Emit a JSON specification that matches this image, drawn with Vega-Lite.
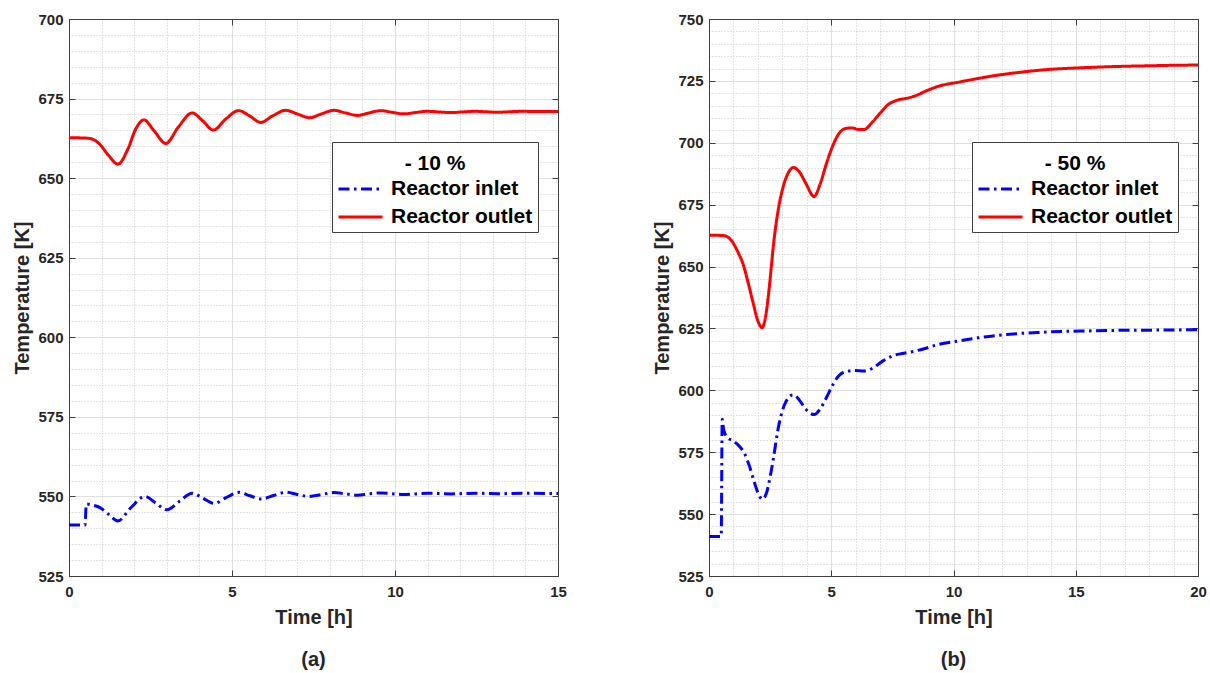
{
  "$schema": "https://vega.github.io/schema/vega-lite/v6.json",
  "background": "white",
  "padding": {"left": 12, "top": 12, "right": 8, "bottom": 8},
  "config": {"view": {"stroke": null}, "font": "Liberation Sans"},
  "datasets": {
    "a": [
      {"t": 0, "T": 662.7, "s": "Reactor outlet"}, {"t": 0.5, "T": 662.6, "s": "Reactor outlet"}, {"t": 0.7, "T": 662.3, "s": "Reactor outlet"},
      {"t": 0.93, "T": 660.8, "s": "Reactor outlet"}, {"t": 1.2, "T": 657.3, "s": "Reactor outlet"}, {"t": 1.5, "T": 654.4, "s": "Reactor outlet"},
      {"t": 1.8, "T": 659.0, "s": "Reactor outlet"}, {"t": 2.05, "T": 665.5, "s": "Reactor outlet"}, {"t": 2.3, "T": 668.3, "s": "Reactor outlet"},
      {"t": 2.6, "T": 665.0, "s": "Reactor outlet"}, {"t": 2.97, "T": 660.9, "s": "Reactor outlet"}, {"t": 3.35, "T": 666.0, "s": "Reactor outlet"},
      {"t": 3.78, "T": 670.5, "s": "Reactor outlet"}, {"t": 4.1, "T": 668.0, "s": "Reactor outlet"}, {"t": 4.43, "T": 665.1, "s": "Reactor outlet"},
      {"t": 4.8, "T": 668.5, "s": "Reactor outlet"}, {"t": 5.2, "T": 671.2, "s": "Reactor outlet"}, {"t": 5.55, "T": 669.5, "s": "Reactor outlet"},
      {"t": 5.88, "T": 667.5, "s": "Reactor outlet"}, {"t": 6.25, "T": 669.6, "s": "Reactor outlet"}, {"t": 6.65, "T": 671.3, "s": "Reactor outlet"},
      {"t": 7.0, "T": 670.2, "s": "Reactor outlet"}, {"t": 7.38, "T": 669.0, "s": "Reactor outlet"}, {"t": 7.75, "T": 670.2, "s": "Reactor outlet"},
      {"t": 8.12, "T": 671.3, "s": "Reactor outlet"}, {"t": 8.48, "T": 670.5, "s": "Reactor outlet"}, {"t": 8.85, "T": 669.7, "s": "Reactor outlet"},
      {"t": 9.2, "T": 670.5, "s": "Reactor outlet"}, {"t": 9.56, "T": 671.2, "s": "Reactor outlet"}, {"t": 9.9, "T": 670.7, "s": "Reactor outlet"},
      {"t": 10.27, "T": 670.2, "s": "Reactor outlet"}, {"t": 10.62, "T": 670.6, "s": "Reactor outlet"}, {"t": 10.98, "T": 671.0, "s": "Reactor outlet"},
      {"t": 11.35, "T": 670.8, "s": "Reactor outlet"}, {"t": 11.72, "T": 670.6, "s": "Reactor outlet"}, {"t": 12.08, "T": 670.8, "s": "Reactor outlet"},
      {"t": 12.45, "T": 671.0, "s": "Reactor outlet"}, {"t": 12.8, "T": 670.85, "s": "Reactor outlet"}, {"t": 13.15, "T": 670.7, "s": "Reactor outlet"},
      {"t": 13.5, "T": 670.85, "s": "Reactor outlet"}, {"t": 13.9, "T": 671.0, "s": "Reactor outlet"}, {"t": 14.4, "T": 670.9, "s": "Reactor outlet"},
      {"t": 15, "T": 670.9, "s": "Reactor outlet"},
      {"t": 0, "T": 541.0, "s": "Reactor inlet"}, {"t": 0.49, "T": 541.0, "s": "Reactor inlet"}, {"t": 0.53, "T": 547.6, "s": "Reactor inlet"},
      {"t": 0.75, "T": 547.2, "s": "Reactor inlet"}, {"t": 0.95, "T": 546.5, "s": "Reactor inlet"}, {"t": 1.2, "T": 544.5, "s": "Reactor inlet"},
      {"t": 1.5, "T": 542.3, "s": "Reactor inlet"}, {"t": 1.9, "T": 546.5, "s": "Reactor inlet"}, {"t": 2.33, "T": 550.0, "s": "Reactor inlet"},
      {"t": 2.65, "T": 548.0, "s": "Reactor inlet"}, {"t": 3.0, "T": 545.8, "s": "Reactor inlet"}, {"t": 3.4, "T": 548.6, "s": "Reactor inlet"},
      {"t": 3.78, "T": 551.0, "s": "Reactor inlet"}, {"t": 4.1, "T": 549.5, "s": "Reactor inlet"}, {"t": 4.45, "T": 547.8, "s": "Reactor inlet"},
      {"t": 4.85, "T": 549.8, "s": "Reactor inlet"}, {"t": 5.22, "T": 551.3, "s": "Reactor inlet"}, {"t": 5.55, "T": 550.2, "s": "Reactor inlet"},
      {"t": 5.9, "T": 549.2, "s": "Reactor inlet"}, {"t": 6.28, "T": 550.3, "s": "Reactor inlet"}, {"t": 6.66, "T": 551.3, "s": "Reactor inlet"},
      {"t": 7.0, "T": 550.6, "s": "Reactor inlet"}, {"t": 7.38, "T": 550.0, "s": "Reactor inlet"}, {"t": 7.75, "T": 550.6, "s": "Reactor inlet"},
      {"t": 8.12, "T": 551.2, "s": "Reactor inlet"}, {"t": 8.5, "T": 550.8, "s": "Reactor inlet"}, {"t": 8.85, "T": 550.4, "s": "Reactor inlet"},
      {"t": 9.2, "T": 550.8, "s": "Reactor inlet"}, {"t": 9.56, "T": 551.1, "s": "Reactor inlet"}, {"t": 9.9, "T": 550.85, "s": "Reactor inlet"},
      {"t": 10.27, "T": 550.6, "s": "Reactor inlet"}, {"t": 10.98, "T": 551.0, "s": "Reactor inlet"}, {"t": 11.72, "T": 550.8, "s": "Reactor inlet"},
      {"t": 12.45, "T": 551.0, "s": "Reactor inlet"}, {"t": 13.15, "T": 550.85, "s": "Reactor inlet"}, {"t": 13.9, "T": 551.0, "s": "Reactor inlet"},
      {"t": 15, "T": 550.9, "s": "Reactor inlet"}
    ],
    "b": [
      {"t": 0, "T": 662.7, "s": "Reactor outlet"}, {"t": 0.6, "T": 662.5, "s": "Reactor outlet"}, {"t": 0.91, "T": 660.6, "s": "Reactor outlet"},
      {"t": 1.2, "T": 655.5, "s": "Reactor outlet"}, {"t": 1.4, "T": 650.8, "s": "Reactor outlet"}, {"t": 1.6, "T": 643.5, "s": "Reactor outlet"},
      {"t": 1.8, "T": 635.5, "s": "Reactor outlet"}, {"t": 2.0, "T": 628.0, "s": "Reactor outlet"}, {"t": 2.17, "T": 625.3, "s": "Reactor outlet"},
      {"t": 2.35, "T": 632.0, "s": "Reactor outlet"}, {"t": 2.5, "T": 645.0, "s": "Reactor outlet"}, {"t": 2.65, "T": 660.0, "s": "Reactor outlet"},
      {"t": 2.8, "T": 671.0, "s": "Reactor outlet"}, {"t": 3.0, "T": 681.0, "s": "Reactor outlet"}, {"t": 3.2, "T": 687.0, "s": "Reactor outlet"},
      {"t": 3.45, "T": 690.0, "s": "Reactor outlet"}, {"t": 3.7, "T": 688.2, "s": "Reactor outlet"}, {"t": 3.95, "T": 683.8, "s": "Reactor outlet"},
      {"t": 4.3, "T": 678.3, "s": "Reactor outlet"}, {"t": 4.55, "T": 683.5, "s": "Reactor outlet"}, {"t": 4.8, "T": 691.5, "s": "Reactor outlet"},
      {"t": 5.05, "T": 698.5, "s": "Reactor outlet"}, {"t": 5.3, "T": 703.5, "s": "Reactor outlet"}, {"t": 5.6, "T": 705.8, "s": "Reactor outlet"},
      {"t": 5.85, "T": 706.0, "s": "Reactor outlet"}, {"t": 6.1, "T": 705.4, "s": "Reactor outlet"}, {"t": 6.35, "T": 705.4, "s": "Reactor outlet"},
      {"t": 6.65, "T": 708.0, "s": "Reactor outlet"}, {"t": 7.0, "T": 712.0, "s": "Reactor outlet"}, {"t": 7.35, "T": 715.6, "s": "Reactor outlet"},
      {"t": 7.7, "T": 717.2, "s": "Reactor outlet"}, {"t": 8.1, "T": 718.0, "s": "Reactor outlet"}, {"t": 8.45, "T": 719.0, "s": "Reactor outlet"},
      {"t": 8.85, "T": 720.8, "s": "Reactor outlet"}, {"t": 9.25, "T": 722.4, "s": "Reactor outlet"}, {"t": 9.7, "T": 723.6, "s": "Reactor outlet"},
      {"t": 10.1, "T": 724.3, "s": "Reactor outlet"}, {"t": 10.8, "T": 725.6, "s": "Reactor outlet"}, {"t": 11.6, "T": 727.0, "s": "Reactor outlet"},
      {"t": 12.4, "T": 728.1, "s": "Reactor outlet"}, {"t": 13.2, "T": 729.0, "s": "Reactor outlet"}, {"t": 14.0, "T": 729.7, "s": "Reactor outlet"},
      {"t": 15.0, "T": 730.2, "s": "Reactor outlet"}, {"t": 16.0, "T": 730.6, "s": "Reactor outlet"}, {"t": 17.0, "T": 730.9, "s": "Reactor outlet"},
      {"t": 18.0, "T": 731.1, "s": "Reactor outlet"}, {"t": 19.0, "T": 731.3, "s": "Reactor outlet"}, {"t": 20.0, "T": 731.4, "s": "Reactor outlet"},
      {"t": 0, "T": 541.0, "s": "Reactor inlet"}, {"t": 0.5, "T": 541.0, "s": "Reactor inlet"}, {"t": 0.54, "T": 588.3, "s": "Reactor inlet"},
      {"t": 0.6, "T": 584.0, "s": "Reactor inlet"}, {"t": 0.75, "T": 581.0, "s": "Reactor inlet"}, {"t": 1.0, "T": 579.5, "s": "Reactor inlet"},
      {"t": 1.25, "T": 577.3, "s": "Reactor inlet"}, {"t": 1.45, "T": 574.5, "s": "Reactor inlet"}, {"t": 1.65, "T": 569.5, "s": "Reactor inlet"},
      {"t": 1.85, "T": 563.0, "s": "Reactor inlet"}, {"t": 2.05, "T": 557.5, "s": "Reactor inlet"}, {"t": 2.18, "T": 556.0, "s": "Reactor inlet"},
      {"t": 2.35, "T": 558.5, "s": "Reactor inlet"}, {"t": 2.5, "T": 565.0, "s": "Reactor inlet"}, {"t": 2.65, "T": 573.5, "s": "Reactor inlet"},
      {"t": 2.8, "T": 583.0, "s": "Reactor inlet"}, {"t": 2.95, "T": 590.0, "s": "Reactor inlet"}, {"t": 3.15, "T": 595.5, "s": "Reactor inlet"},
      {"t": 3.45, "T": 598.2, "s": "Reactor inlet"}, {"t": 3.7, "T": 596.0, "s": "Reactor inlet"}, {"t": 3.95, "T": 592.5, "s": "Reactor inlet"},
      {"t": 4.3, "T": 590.2, "s": "Reactor inlet"}, {"t": 4.55, "T": 592.5, "s": "Reactor inlet"}, {"t": 4.8, "T": 597.0, "s": "Reactor inlet"},
      {"t": 5.05, "T": 602.0, "s": "Reactor inlet"}, {"t": 5.3, "T": 605.8, "s": "Reactor inlet"}, {"t": 5.6, "T": 607.6, "s": "Reactor inlet"},
      {"t": 5.95, "T": 608.0, "s": "Reactor inlet"}, {"t": 6.35, "T": 607.8, "s": "Reactor inlet"}, {"t": 6.7, "T": 609.0, "s": "Reactor inlet"},
      {"t": 7.1, "T": 611.8, "s": "Reactor inlet"}, {"t": 7.5, "T": 613.9, "s": "Reactor inlet"}, {"t": 7.9, "T": 614.9, "s": "Reactor inlet"},
      {"t": 8.3, "T": 615.6, "s": "Reactor inlet"}, {"t": 8.8, "T": 616.8, "s": "Reactor inlet"}, {"t": 9.3, "T": 618.3, "s": "Reactor inlet"},
      {"t": 9.8, "T": 619.3, "s": "Reactor inlet"}, {"t": 10.3, "T": 620.1, "s": "Reactor inlet"}, {"t": 11.0, "T": 621.2, "s": "Reactor inlet"},
      {"t": 11.8, "T": 622.2, "s": "Reactor inlet"}, {"t": 12.6, "T": 622.9, "s": "Reactor inlet"}, {"t": 13.5, "T": 623.4, "s": "Reactor inlet"},
      {"t": 14.5, "T": 623.8, "s": "Reactor inlet"}, {"t": 15.5, "T": 624.0, "s": "Reactor inlet"}, {"t": 16.5, "T": 624.2, "s": "Reactor inlet"},
      {"t": 18.0, "T": 624.3, "s": "Reactor inlet"}, {"t": 20.0, "T": 624.5, "s": "Reactor inlet"}
    ]
  },
  "spacing": 151,
  "bounds": "flush",
  "resolve": {
    "scale": {"color": "independent", "strokeDash": "independent"},
    "legend": {"color": "independent", "strokeDash": "independent"}
  },
  "hconcat": [
    {
      "width": 489,
      "height": 557,
      "data": {"name": "a"},
      "title": {"text": "(a)", "orient": "bottom", "anchor": "middle", "fontSize": 20, "fontWeight": "bold", "color": "#262626", "offset": 23},
      "resolve": {"axis": {"x": "independent", "y": "independent"}},
      "layer": [
        {
          "mark": {"type": "point", "opacity": 0},
          "encoding": {
            "x": {"field": "t", "type": "quantitative", "scale": {"domain": [0, 15], "nice": false, "zero": false},
              "axis": {"orient": "bottom", "values": [1,2,3,4,6,7,8,9,11,12,13,14], "grid": true, "gridColor": "#c8c8c8", "gridDash": [1, 2], "ticks": false, "labels": false, "domain": false, "title": null}},
            "y": {"field": "T", "type": "quantitative", "scale": {"domain": [525, 700], "nice": false, "zero": false},
              "axis": {"orient": "left", "values": [530,535,540,545,555,560,565,570,580,585,590,595,605,610,615,620,630,635,640,645,655,660,665,670,680,685,690,695], "grid": true, "gridColor": "#c8c8c8", "gridDash": [1, 2], "ticks": false, "labels": false, "domain": false, "title": null}}
          }
        },
        {
          "mark": {"type": "line", "strokeWidth": 3, "interpolate": "monotone"},
          "encoding": {
            "x": {"field": "t", "type": "quantitative", "scale": {"domain": [0, 15], "nice": false, "zero": false},
              "axis": {"orient": "bottom", "values": [0, 5, 10, 15], "grid": true, "gridColor": "#e0e0e0", "tickSize": -6, "tickColor": "#404040", "domainColor": "#404040",
                "labelFlush": false, "labelPadding": 14, "labelFontSize": 15, "labelFontWeight": "bold", "labelColor": "#262626",
                "title": "Time [h]", "titleFontSize": 20, "titleFontWeight": "bold", "titleColor": "#262626", "titlePadding": 8}},
            "y": {"field": "T", "type": "quantitative", "scale": {"domain": [525, 700], "nice": false, "zero": false},
              "axis": {"orient": "left", "values": [525, 550, 575, 600, 625, 650, 675, 700], "grid": true, "gridColor": "#e0e0e0", "tickSize": -6, "tickColor": "#404040", "domainColor": "#404040",
                "labelFlush": false, "labelPadding": 12, "labelFontSize": 15, "labelFontWeight": "bold", "labelColor": "#262626",
                "title": "Temperature [K]", "titleFontSize": 20, "titleFontWeight": "bold", "titleColor": "#262626", "titlePadding": 5}},
            "color": {"field": "s", "type": "nominal", "scale": {"domain": ["Reactor inlet", "Reactor outlet"], "range": ["#0000ff", "#ff0000"]},
              "legend": {"title": "- 10 %", "orient": "none", "legendX": 263, "legendY": 123, "fillColor": "white", "strokeColor": "#404040", "padding": 5,
                "titleFontSize": 21, "titleFontWeight": "bold", "titleColor": "black", "titleAnchor": "middle", "titleBaseline": "line-top", "titleLineHeight": 33, "titlePadding": 11,
                "labelFontSize": 21, "labelFontWeight": "bold", "labelColor": "black", "labelOffset": 7,
                "symbolType": "stroke", "symbolSize": 1936, "symbolStrokeWidth": 3, "clipHeight": 20, "rowPadding": 7}},
            "strokeDash": {"field": "s", "type": "nominal", "scale": {"domain": ["Reactor inlet", "Reactor outlet"], "range": [[11, 4.5, 2.5, 4.5], [1, 0]]},
              "legend": {"title": "- 10 %", "orient": "none", "legendX": 263, "legendY": 123, "fillColor": "white", "strokeColor": "#404040", "padding": 5,
                "titleFontSize": 21, "titleFontWeight": "bold", "titleColor": "black", "titleAnchor": "middle", "titleBaseline": "line-top", "titleLineHeight": 33, "titlePadding": 11,
                "labelFontSize": 21, "labelFontWeight": "bold", "labelColor": "black", "labelOffset": 7,
                "symbolType": "stroke", "symbolSize": 1936, "symbolStrokeWidth": 3, "clipHeight": 20, "rowPadding": 7}}
          }
        },
        {
          "mark": {"type": "point", "opacity": 0},
          "encoding": {
            "x": {"field": "t", "type": "quantitative", "scale": {"domain": [0, 15], "nice": false, "zero": false},
              "axis": {"orient": "top", "values": [0, 5, 10, 15], "grid": false, "tickSize": -6, "tickColor": "#404040", "domainColor": "#404040", "labels": false, "title": null}},
            "y": {"field": "T", "type": "quantitative", "scale": {"domain": [525, 700], "nice": false, "zero": false},
              "axis": {"orient": "right", "values": [525, 550, 575, 600, 625, 650, 675, 700], "grid": false, "tickSize": -6, "tickColor": "#404040", "domainColor": "#404040", "labels": false, "title": null}}
          }
        }
      ]
    },
    {
      "width": 489,
      "height": 557,
      "data": {"name": "b"},
      "title": {"text": "(b)", "orient": "bottom", "anchor": "middle", "fontSize": 20, "fontWeight": "bold", "color": "#262626", "offset": 23},
      "resolve": {"axis": {"x": "independent", "y": "independent"}},
      "layer": [
        {
          "mark": {"type": "point", "opacity": 0},
          "encoding": {
            "x": {"field": "t", "type": "quantitative", "scale": {"domain": [0, 20], "nice": false, "zero": false},
              "axis": {"orient": "bottom", "values": [1,2,3,4,6,7,8,9,11,12,13,14,16,17,18,19], "grid": true, "gridColor": "#c8c8c8", "gridDash": [1, 2], "ticks": false, "labels": false, "domain": false, "title": null}},
            "y": {"field": "T", "type": "quantitative", "scale": {"domain": [525, 750], "nice": false, "zero": false},
              "axis": {"orient": "left", "values": [530,535,540,545,555,560,565,570,580,585,590,595,605,610,615,620,630,635,640,645,655,660,665,670,680,685,690,695,705,710,715,720,730,735,740,745], "grid": true, "gridColor": "#c8c8c8", "gridDash": [1, 2], "ticks": false, "labels": false, "domain": false, "title": null}}
          }
        },
        {
          "mark": {"type": "line", "strokeWidth": 3, "interpolate": "monotone"},
          "encoding": {
            "x": {"field": "t", "type": "quantitative", "scale": {"domain": [0, 20], "nice": false, "zero": false},
              "axis": {"orient": "bottom", "values": [0, 5, 10, 15, 20], "grid": true, "gridColor": "#e0e0e0", "tickSize": -6, "tickColor": "#404040", "domainColor": "#404040",
                "labelFlush": false, "labelPadding": 14, "labelFontSize": 15, "labelFontWeight": "bold", "labelColor": "#262626",
                "title": "Time [h]", "titleFontSize": 20, "titleFontWeight": "bold", "titleColor": "#262626", "titlePadding": 8}},
            "y": {"field": "T", "type": "quantitative", "scale": {"domain": [525, 750], "nice": false, "zero": false},
              "axis": {"orient": "left", "values": [525, 550, 575, 600, 625, 650, 675, 700, 725, 750], "grid": true, "gridColor": "#e0e0e0", "tickSize": -6, "tickColor": "#404040", "domainColor": "#404040",
                "labelFlush": false, "labelPadding": 12, "labelFontSize": 15, "labelFontWeight": "bold", "labelColor": "#262626",
                "title": "Temperature [K]", "titleFontSize": 20, "titleFontWeight": "bold", "titleColor": "#262626", "titlePadding": 5}},
            "color": {"field": "s", "type": "nominal", "scale": {"domain": ["Reactor inlet", "Reactor outlet"], "range": ["#0000ff", "#ff0000"]},
              "legend": {"title": "- 50 %", "orient": "none", "legendX": 263, "legendY": 123, "fillColor": "white", "strokeColor": "#404040", "padding": 5,
                "titleFontSize": 21, "titleFontWeight": "bold", "titleColor": "black", "titleAnchor": "middle", "titleBaseline": "line-top", "titleLineHeight": 33, "titlePadding": 11,
                "labelFontSize": 21, "labelFontWeight": "bold", "labelColor": "black", "labelOffset": 7,
                "symbolType": "stroke", "symbolSize": 1936, "symbolStrokeWidth": 3, "clipHeight": 20, "rowPadding": 7}},
            "strokeDash": {"field": "s", "type": "nominal", "scale": {"domain": ["Reactor inlet", "Reactor outlet"], "range": [[11, 4.5, 2.5, 4.5], [1, 0]]},
              "legend": {"title": "- 50 %", "orient": "none", "legendX": 263, "legendY": 123, "fillColor": "white", "strokeColor": "#404040", "padding": 5,
                "titleFontSize": 21, "titleFontWeight": "bold", "titleColor": "black", "titleAnchor": "middle", "titleBaseline": "line-top", "titleLineHeight": 33, "titlePadding": 11,
                "labelFontSize": 21, "labelFontWeight": "bold", "labelColor": "black", "labelOffset": 7,
                "symbolType": "stroke", "symbolSize": 1936, "symbolStrokeWidth": 3, "clipHeight": 20, "rowPadding": 7}}
          }
        },
        {
          "mark": {"type": "point", "opacity": 0},
          "encoding": {
            "x": {"field": "t", "type": "quantitative", "scale": {"domain": [0, 20], "nice": false, "zero": false},
              "axis": {"orient": "top", "values": [0, 5, 10, 15, 20], "grid": false, "tickSize": -6, "tickColor": "#404040", "domainColor": "#404040", "labels": false, "title": null}},
            "y": {"field": "T", "type": "quantitative", "scale": {"domain": [525, 750], "nice": false, "zero": false},
              "axis": {"orient": "right", "values": [525, 550, 575, 600, 625, 650, 675, 700, 725, 750], "grid": false, "tickSize": -6, "tickColor": "#404040", "domainColor": "#404040", "labels": false, "title": null}}
          }
        }
      ]
    }
  ]
}
